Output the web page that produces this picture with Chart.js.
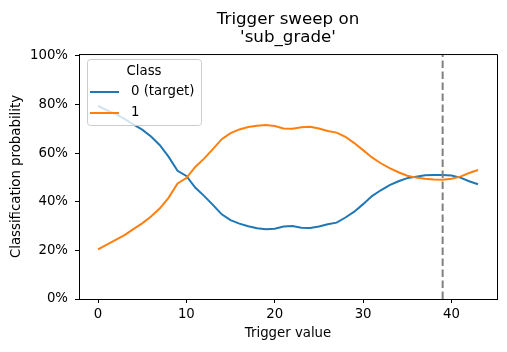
<!DOCTYPE html>
<html>
<head>
<meta charset="utf-8">
<script src="https://cdn.jsdelivr.net/npm/chart.js@4.4.1/dist/chart.umd.min.js"></script>
<style>
  html, body { margin: 0; padding: 0; background: #fff; }
  canvas { display: block; }
</style>
</head>
<body>
<canvas id="sweep" width="507" height="352"></canvas>
<script>
// trigger values swept along x
const triggerValues = [
  0, 1, 2, 3, 4, 5, 6, 7, 8, 9, 10, 11, 12, 13, 14, 15, 16, 17, 18, 19, 20, 21,
  22, 23, 24, 25, 26, 27, 28, 29, 30, 31, 32, 33, 34, 35, 36, 37, 38, 39, 40, 41, 42, 43,
];

// class probabilities, in percent
const class0Probs = [
  79.4, 77.6, 76.0, 74.0, 71.8, 69.6, 66.8, 63.2, 58.4, 52.7, 50.6, 45.8, 42.4, 38.7, 34.8,
  32.4, 31.0, 29.9, 29.1, 28.7, 28.9, 29.8, 30.0, 29.3, 29.2, 29.8, 30.7, 31.4, 33.5, 35.9,
  39.0, 42.3, 44.7, 46.8, 48.4, 49.7, 50.3, 50.9, 51.0, 51.0, 50.8, 49.9, 48.4, 47.2,
];
const class1Probs = [
  20.4, 22.4, 24.3, 26.3, 28.7, 31.1, 33.9, 37.3, 41.7, 47.5, 49.7, 54.3, 57.7, 61.6, 65.7,
  68.2, 69.7, 70.7, 71.2, 71.5, 71.1, 70.1, 70.0, 70.6, 70.8, 70.1, 69.1, 68.4, 66.7, 64.1,
  61.2, 58.2, 55.8, 53.8, 52.1, 50.7, 49.9, 49.4, 49.1, 49.0, 49.4, 50.3, 51.8, 53.0,
];

const seriesLabels = ['0 (target)', '1'];
const xTicks = [0, 10, 20, 30, 40];
const yTicks = [0, 0.2, 0.4, 0.6, 0.8, 1.0];
const chosenTrigger = 39;

const BLUE = '#1f77b4';
const ORANGE = '#ff7f0e';
const FONT = 'DejaVu Sans';

const toPoints = (vals) => vals.map((v, i) => ({ x: triggerValues[i], y: v / 100 }));

// centre the title over the axes rather than the whole canvas
const titleOverAxes = {
  id: 'titleOverAxes',
  afterLayout(chart) {
    if (chart.titleBlock) {
      chart.titleBlock.left = chart.chartArea.left;
      chart.titleBlock.right = chart.chartArea.right;
    }
  },
};

// top + right spines, matplotlib style box
const framePlugin = {
  id: 'frame',
  afterDatasetsDraw(chart) {
    const { ctx, chartArea: a } = chart;
    ctx.save();
    ctx.strokeStyle = '#000';
    ctx.lineWidth = 1;
    ctx.beginPath();
    ctx.moveTo(a.left, a.top + 0.5);
    ctx.lineTo(a.right + 0.5, a.top + 0.5);
    ctx.lineTo(a.right + 0.5, a.bottom);
    ctx.stroke();
    ctx.restore();
  },
};

// legend box sitting inside the axes, upper left
const legendPlugin = {
  id: 'innerLegend',
  afterDraw(chart) {
    const { ctx } = chart;
    const x = 87.5, y = 59.5, w = 114, h = 66;
    ctx.save();
    ctx.beginPath();
    ctx.roundRect(x, y, w, h, 3);
    ctx.fillStyle = 'rgba(255,255,255,0.8)';
    ctx.fill();
    ctx.strokeStyle = '#cccccc';
    ctx.lineWidth = 1;
    ctx.stroke();

    ctx.font = `13.3px "${FONT}"`;
    ctx.fillStyle = '#000';
    ctx.textBaseline = 'middle';
    ctx.textAlign = 'center';
    ctx.fillText('Class', 144, 72);

    const colors = [BLUE, ORANGE];
    const rows = [92, 113];
    ctx.textAlign = 'left';
    ctx.lineWidth = 2;
    seriesLabels.forEach((label, i) => {
      ctx.strokeStyle = colors[i];
      ctx.beginPath();
      ctx.moveTo(90, rows[i]);
      ctx.lineTo(119, rows[i]);
      ctx.stroke();
      ctx.fillText(label, 131, rows[i]);
    });
    ctx.restore();
  },
};

new Chart(document.getElementById('sweep'), {
  type: 'line',
  data: {
    datasets: [
      {
        label: seriesLabels[0],
        data: toPoints(class0Probs),
        borderColor: BLUE,
        borderWidth: 2,
        pointRadius: 0,
        tension: 0,
        order: 2,
      },
      {
        label: seriesLabels[1],
        data: toPoints(class1Probs),
        borderColor: ORANGE,
        borderWidth: 2,
        pointRadius: 0,
        tension: 0,
        order: 1,
      },
      {
        label: 'chosen',
        data: [{ x: chosenTrigger, y: 0 }, { x: chosenTrigger, y: 1.007 }],
        borderColor: '#808080',
        borderWidth: 2,
        borderDash: [7.5, 3.5],
        pointRadius: 0,
        order: 0,
      },
    ],
  },
  options: {
    responsive: false,
    devicePixelRatio: 1,
    animation: false,
    layout: { padding: { top: 0, right: 10, bottom: 0, left: 0 } },
    plugins: {
      legend: { display: false },
      tooltip: { enabled: false },
      title: {
        display: true,
        text: ['Trigger sweep on', "'sub_grade'"],
        color: '#000',
        font: { family: FONT, size: 16.7, weight: 'normal', lineHeight: 1.1 },
        padding: { top: 10, bottom: 7.3 },
      },
    },
    scales: {
      x: {
        type: 'linear',
        min: -2.15,
        max: 45.15,
        afterBuildTicks: (scale) => { scale.ticks = xTicks.map((v) => ({ value: v })); },
        afterFit: (scale) => { scale.height = 53; },
        grid: { drawOnChartArea: false, tickLength: 4, tickColor: '#000' },
        border: { color: '#000', width: 1 },
        ticks: { color: '#000', padding: 4, maxRotation: 0, font: { family: FONT, size: 13.3 } },
        title: {
          display: true,
          text: 'Trigger value',
          color: '#000',
          font: { family: FONT, size: 13.3 },
          padding: { top: 0, bottom: 10 },
        },
      },
      y: {
        min: 0,
        max: 1.007,
        afterBuildTicks: (scale) => { scale.ticks = yTicks.map((v) => ({ value: v })); },
        afterFit: (scale) => { scale.width = 79; },
        grid: { drawOnChartArea: false, tickLength: 4, tickColor: '#000' },
        border: { color: '#000', width: 1 },
        ticks: {
          color: '#000',
          padding: 7,
          font: { family: FONT, size: 13.3 },
          callback: (v) => Math.round(v * 100) + '%',
        },
        title: {
          display: true,
          text: 'Classification probability',
          color: '#000',
          font: { family: FONT, size: 13.3 },
          padding: { top: 9, bottom: 0 },
        },
      },
    },
  },
  plugins: [titleOverAxes, framePlugin, legendPlugin],
});
</script>
</body>
</html>
